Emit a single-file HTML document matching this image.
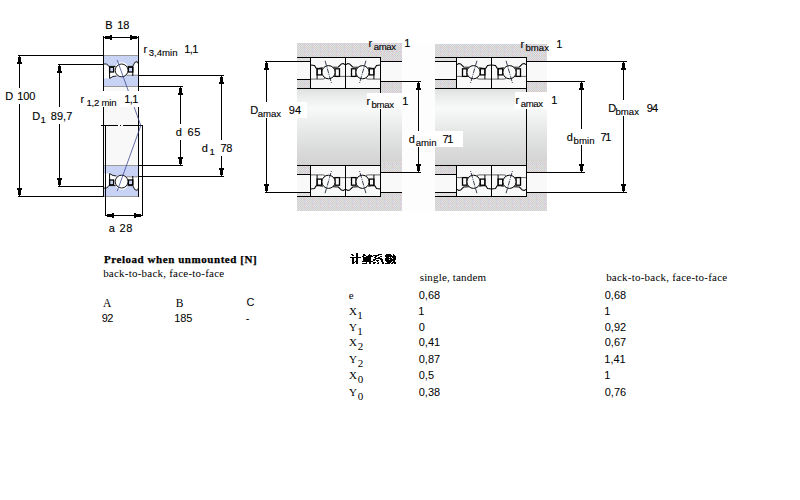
<!DOCTYPE html><html><head><meta charset="utf-8"><style>html,body{margin:0;padding:0;background:#fff;width:800px;height:500px;overflow:hidden}svg{display:block}</style></head><body>
<svg width="800" height="500" viewBox="0 0 800 500">
<defs>
<pattern id="pg" width="8" height="8" patternUnits="userSpaceOnUse"><rect width="8" height="8" fill="#d0d0d0"/><path d="M1,0h1v1h-1zM3,0h1v1h-1zM5,0h1v1h-1zM7,0h1v1h-1zM0,1h1v1h-1zM2,1h1v1h-1zM4,1h1v1h-1zM6,1h1v1h-1zM1,2h1v1h-1zM3,2h1v1h-1zM5,2h1v1h-1zM7,2h1v1h-1zM0,3h1v1h-1zM2,3h1v1h-1zM4,3h1v1h-1zM6,3h1v1h-1zM1,4h1v1h-1zM3,4h1v1h-1zM5,4h1v1h-1zM7,4h1v1h-1zM0,5h1v1h-1zM2,5h1v1h-1zM4,5h1v1h-1zM6,5h1v1h-1zM1,6h1v1h-1zM3,6h1v1h-1zM5,6h1v1h-1zM7,6h1v1h-1zM0,7h1v1h-1zM2,7h1v1h-1zM4,7h1v1h-1zM6,7h1v1h-1z" fill="#e0e0e0"/><rect x="0" y="3" width="1" height="1" fill="#f4c4c8"/><rect x="0" y="4" width="1" height="1" fill="#c8c8f4"/><rect x="4" y="3" width="1" height="1" fill="#f4c4c8"/><rect x="4" y="4" width="1" height="1" fill="#c8c8f4"/><rect x="0" y="7" width="1" height="1" fill="#f4c4c8"/><rect x="0" y="0" width="1" height="1" fill="#c8c8f4"/></pattern>
<pattern id="pl" width="6" height="6" patternUnits="userSpaceOnUse"><rect width="6" height="6" fill="#e0e0e0"/><rect x="1" y="1" width="1" height="1" fill="#f0d8e0"/></pattern>
<pattern id="pb" width="4" height="4" patternUnits="userSpaceOnUse"><rect width="4" height="4" fill="#caccf6"/><rect x="0" y="0" width="1" height="1" fill="#b0d8f4"/><rect x="2" y="2" width="1" height="1" fill="#b0d8f4"/><rect x="2" y="0" width="1" height="1" fill="#d8f4f4"/><rect x="0" y="2" width="1" height="1" fill="#d8f4f4"/></pattern>
<linearGradient id="shaft" x1="0" y1="88" x2="0" y2="166" gradientUnits="userSpaceOnUse"><stop offset="0" stop-color="#dedede"/><stop offset="0.1" stop-color="#eaecec"/><stop offset="0.26" stop-color="#f8fafa"/><stop offset="0.55" stop-color="#e6e8e8"/><stop offset="0.85" stop-color="#d8d8d8"/><stop offset="1" stop-color="#d2d2d2"/></linearGradient>
</defs>
<g shape-rendering="crispEdges">
<rect x="104" y="87" width="34" height="78" fill="#f8f8f8" />
</g>
<g transform="translate(103.5,55.5)">
<path d="M0,0 H35 V8.5 L33.7,6.1 L31.3,6.9 L29.3,10.9 L24.1,10.9 A6.4,6.4 0 0 0 12.1,10.9 L5.3,10.9 L3.3,8.5 L0,8.5 Z" fill="url(#pb)"/>
<path d="M0,8.5 L3.3,8.5 L5.3,10.9 L12.1,10.9 M24.1,10.9 L29.3,10.9 L31.3,6.9 L33.7,6.1 L35,8.5" fill="none" stroke="#000" stroke-width="0.9"/>
<path d="M0,22.9 L6.1,22.9 L9.5,21 L14,20.3 L22,19.7 L35,19.7 V31 H0 Z" fill="url(#pb)"/>
<path d="M6.1,22.9 L9.5,21 L13,20.5" fill="none" stroke="#000" stroke-width="0.9"/>
<path d="M23,19.7 H35" stroke="#888" stroke-width="1"/>
<path d="M0,0 H35 M0,31 H35" stroke="#999" stroke-width="1"/>
<rect x="6.1" y="11.7" width="4" height="4.8" fill="url(#pb)" stroke="#000" stroke-width="1.3"/>
<rect x="24.9" y="11.7" width="4.4" height="4.8" fill="url(#pb)" stroke="#000" stroke-width="1.3"/>
<path d="M6.1,10.9 V22.9 M29.3,10.9 V20.5" stroke="#000" stroke-width="1"/>
<circle cx="18.1" cy="14.9" r="6.4" fill="#fff" stroke="#000" stroke-width="0.9"/>
</g>
<g transform="translate(103.5,196.5) scale(1,-1)">
<path d="M0,0 H35 V8.5 L33.7,6.1 L31.3,6.9 L29.3,10.9 L24.1,10.9 A6.4,6.4 0 0 0 12.1,10.9 L5.3,10.9 L3.3,8.5 L0,8.5 Z" fill="url(#pb)"/>
<path d="M0,8.5 L3.3,8.5 L5.3,10.9 L12.1,10.9 M24.1,10.9 L29.3,10.9 L31.3,6.9 L33.7,6.1 L35,8.5" fill="none" stroke="#000" stroke-width="0.9"/>
<path d="M0,22.9 L6.1,22.9 L9.5,21 L14,20.3 L22,19.7 L35,19.7 V31 H0 Z" fill="url(#pb)"/>
<path d="M6.1,22.9 L9.5,21 L13,20.5" fill="none" stroke="#000" stroke-width="0.9"/>
<path d="M23,19.7 H35" stroke="#888" stroke-width="1"/>
<path d="M0,0 H35 M0,31 H35" stroke="#999" stroke-width="1"/>
<rect x="6.1" y="11.7" width="4" height="4.8" fill="url(#pb)" stroke="#000" stroke-width="1.3"/>
<rect x="24.9" y="11.7" width="4.4" height="4.8" fill="url(#pb)" stroke="#000" stroke-width="1.3"/>
<path d="M6.1,10.9 V22.9 M29.3,10.9 V20.5" stroke="#000" stroke-width="1"/>
<circle cx="18.1" cy="14.9" r="6.4" fill="#fff" stroke="#000" stroke-width="0.9"/>
</g>
<g shape-rendering="crispEdges">
<rect x="103" y="36" width="1" height="55" fill="#000" />
<rect x="138" y="36" width="1" height="55" fill="#000" />
<rect x="103" y="107" width="1" height="90" fill="#000" />
<rect x="138" y="107" width="1" height="90" fill="#000" />
<rect x="105" y="125" width="1" height="91" fill="#000" />
<rect x="142" y="125" width="1" height="91" fill="#000" />
<rect x="101" y="125" width="42" height="1" fill="#000" />
<rect x="105" y="215" width="38" height="1" fill="#000" />
<rect x="18" y="55" width="86" height="1" fill="#000" />
<rect x="18" y="196" width="86" height="1" fill="#000" />
<rect x="19" y="55" width="1" height="33" fill="#000" />
<rect x="19" y="104" width="1" height="93" fill="#000" />
<rect x="58" y="64" width="46" height="1" fill="#000" />
<rect x="58" y="186" width="46" height="1" fill="#000" />
<rect x="59" y="64" width="1" height="43" fill="#000" />
<rect x="59" y="124" width="1" height="63" fill="#000" />
<rect x="103" y="37" width="36" height="1" fill="#000" />
<rect x="139" y="86" width="44" height="1" fill="#000" />
<rect x="139" y="165" width="44" height="1" fill="#000" />
<rect x="180" y="86" width="1" height="38" fill="#000" />
<rect x="180" y="140" width="1" height="26" fill="#000" />
<rect x="139" y="75" width="85" height="1" fill="#000" />
<rect x="139" y="176" width="85" height="1" fill="#000" />
<rect x="221" y="75" width="1" height="65" fill="#000" />
<rect x="221" y="156" width="1" height="21" fill="#000" />
<rect x="19" y="56" width="1" height="1" fill="#000" />
<rect x="18" y="57" width="3" height="5" fill="#000" />
<rect x="17" y="62" width="5" height="2" fill="#000" />
<rect x="19" y="195" width="1" height="1" fill="#000" />
<rect x="18" y="190" width="3" height="5" fill="#000" />
<rect x="17" y="188" width="5" height="2" fill="#000" />
<rect x="59" y="65" width="1" height="1" fill="#000" />
<rect x="58" y="66" width="3" height="5" fill="#000" />
<rect x="57" y="71" width="5" height="2" fill="#000" />
<rect x="59" y="185" width="1" height="1" fill="#000" />
<rect x="58" y="180" width="3" height="5" fill="#000" />
<rect x="57" y="178" width="5" height="2" fill="#000" />
<rect x="180" y="87" width="1" height="1" fill="#000" />
<rect x="179" y="88" width="3" height="5" fill="#000" />
<rect x="178" y="93" width="5" height="2" fill="#000" />
<rect x="180" y="164" width="1" height="1" fill="#000" />
<rect x="179" y="159" width="3" height="5" fill="#000" />
<rect x="178" y="157" width="5" height="2" fill="#000" />
<rect x="221" y="76" width="1" height="1" fill="#000" />
<rect x="220" y="77" width="3" height="5" fill="#000" />
<rect x="219" y="82" width="5" height="2" fill="#000" />
<rect x="221" y="175" width="1" height="1" fill="#000" />
<rect x="220" y="170" width="3" height="5" fill="#000" />
<rect x="219" y="168" width="5" height="2" fill="#000" />
<rect x="104" y="37" width="1" height="1" fill="#000" />
<rect x="105" y="36" width="5" height="3" fill="#000" />
<rect x="110" y="35" width="2" height="5" fill="#000" />
<rect x="137" y="37" width="1" height="1" fill="#000" />
<rect x="132" y="36" width="5" height="3" fill="#000" />
<rect x="130" y="35" width="2" height="5" fill="#000" />
<rect x="106" y="215" width="1" height="1" fill="#000" />
<rect x="107" y="214" width="5" height="3" fill="#000" />
<rect x="112" y="213" width="2" height="5" fill="#000" />
<rect x="141" y="215" width="1" height="1" fill="#000" />
<rect x="136" y="214" width="5" height="3" fill="#000" />
<rect x="134" y="213" width="2" height="5" fill="#000" />
</g>
<g shape-rendering="crispEdges">
<rect x="118" y="125" width="2" height="1" fill="#fff" />
<rect x="121" y="125" width="2" height="1" fill="#fff" />
</g>
<path d="M117.2,60 L140.8,125.6 L117.2,191.2" fill="none" stroke="#3c4a90" stroke-width="0.8"/>
<rect x="78" y="91" width="62" height="16" fill="#fff" />
<g shape-rendering="crispEdges">
<rect x="297" y="43" width="250" height="168" fill="#fdfdfd" />
</g>
<g shape-rendering="crispEdges">
<rect x="297" y="88" width="105" height="78" fill="url(#shaft)" />
<rect x="297" y="43" width="83" height="14" fill="url(#pg)" />
<rect x="380" y="43" width="22" height="18" fill="url(#pg)" />
<rect x="297" y="58" width="13" height="3" fill="url(#pl)" />
<rect x="297" y="62" width="13" height="17" fill="#f9f9f9" />
<rect x="297" y="80" width="13" height="8" fill="url(#pg)" />
<rect x="380" y="62" width="22" height="19" fill="#f9f9f9" />
<rect x="380" y="82" width="22" height="11" fill="url(#pg)" />
<rect x="297" y="57" width="84" height="1" fill="#000" />
<rect x="297" y="61" width="14" height="1" fill="#000" />
<rect x="297" y="79" width="14" height="1" fill="#000" />
<rect x="297" y="88" width="84" height="1" fill="#000" />
<rect x="380" y="61" width="22" height="1" fill="#000" />
<rect x="380" y="81" width="22" height="1" fill="#000" />
<rect x="297" y="197" width="83" height="14" fill="url(#pg)" />
<rect x="380" y="193" width="22" height="18" fill="url(#pg)" />
<rect x="297" y="193" width="13" height="3" fill="url(#pl)" />
<rect x="297" y="175" width="13" height="17" fill="#f9f9f9" />
<rect x="297" y="166" width="13" height="8" fill="url(#pg)" />
<rect x="380" y="173" width="22" height="19" fill="#f9f9f9" />
<rect x="380" y="161" width="22" height="11" fill="url(#pg)" />
<rect x="297" y="196" width="84" height="1" fill="#000" />
<rect x="297" y="192" width="14" height="1" fill="#000" />
<rect x="297" y="174" width="14" height="1" fill="#000" />
<rect x="297" y="165" width="84" height="1" fill="#000" />
<rect x="380" y="192" width="22" height="1" fill="#000" />
<rect x="380" y="172" width="22" height="1" fill="#000" />
</g>
<g transform="translate(310.5,57.5)">
<rect x="0" y="0" width="35" height="31" fill="#f9f9f9"/>
<path d="M0,7.5 L4,7.9 L5.5,10.5 L7.4,10.9 L12.3,10.2 M22.5,9.8 L27.9,9.4 L30.9,6.4 L32.8,6 L35,7.4" fill="none" stroke="#000" stroke-width="1.05"/>
<path d="M0,21.6 H12.5 L14.5,21 M22,18.9 H35" fill="none" stroke="#555" stroke-width="0.9"/>
<rect x="6.6" y="11.3" width="4.6" height="6.1" fill="#f9f9f9" stroke="#000" stroke-width="1.3"/>
<rect x="24.5" y="11.3" width="4.5" height="7.6" fill="#f9f9f9" stroke="#000" stroke-width="1.3"/>
<path d="M6.6,10.5 V21.6" stroke="#000" stroke-width="1"/>
<circle cx="18" cy="14.7" r="6.6" fill="#fbfbfb" stroke="#000" stroke-width="1"/>
<path d="M14.6,3.3 L21.1,26.1" stroke="#222a44" stroke-width="0.9" stroke-dasharray="5,1,1,1"/>
</g>
<g transform="translate(345.5,57.5) translate(35,0) scale(-1,1)">
<rect x="0" y="0" width="35" height="31" fill="#f9f9f9"/>
<path d="M0,7.5 L4,7.9 L5.5,10.5 L7.4,10.9 L12.3,10.2 M22.5,9.8 L27.9,9.4 L30.9,6.4 L32.8,6 L35,7.4" fill="none" stroke="#000" stroke-width="1.05"/>
<path d="M0,21.6 H12.5 L14.5,21 M22,18.9 H35" fill="none" stroke="#555" stroke-width="0.9"/>
<rect x="6.6" y="11.3" width="4.6" height="6.1" fill="#f9f9f9" stroke="#000" stroke-width="1.3"/>
<rect x="24.5" y="11.3" width="4.5" height="7.6" fill="#f9f9f9" stroke="#000" stroke-width="1.3"/>
<path d="M6.6,10.5 V21.6" stroke="#000" stroke-width="1"/>
<circle cx="18" cy="14.7" r="6.6" fill="#fbfbfb" stroke="#000" stroke-width="1"/>
<path d="M14.6,3.3 L21.1,26.1" stroke="#222a44" stroke-width="0.9" stroke-dasharray="5,1,1,1"/>
</g>
<g transform="translate(310.5,196.5) scale(1,-1)">
<rect x="0" y="0" width="35" height="31" fill="#f9f9f9"/>
<path d="M0,7.5 L4,7.9 L5.5,10.5 L7.4,10.9 L12.3,10.2 M22.5,9.8 L27.9,9.4 L30.9,6.4 L32.8,6 L35,7.4" fill="none" stroke="#000" stroke-width="1.05"/>
<path d="M0,21.6 H12.5 L14.5,21 M22,18.9 H35" fill="none" stroke="#555" stroke-width="0.9"/>
<rect x="6.6" y="11.3" width="4.6" height="6.1" fill="#f9f9f9" stroke="#000" stroke-width="1.3"/>
<rect x="24.5" y="11.3" width="4.5" height="7.6" fill="#f9f9f9" stroke="#000" stroke-width="1.3"/>
<path d="M6.6,10.5 V21.6" stroke="#000" stroke-width="1"/>
<circle cx="18" cy="14.7" r="6.6" fill="#fbfbfb" stroke="#000" stroke-width="1"/>
<path d="M14.6,3.3 L21.1,26.1" stroke="#222a44" stroke-width="0.9" stroke-dasharray="5,1,1,1"/>
</g>
<g transform="translate(345.5,196.5) scale(1,-1) translate(35,0) scale(-1,1)">
<rect x="0" y="0" width="35" height="31" fill="#f9f9f9"/>
<path d="M0,7.5 L4,7.9 L5.5,10.5 L7.4,10.9 L12.3,10.2 M22.5,9.8 L27.9,9.4 L30.9,6.4 L32.8,6 L35,7.4" fill="none" stroke="#000" stroke-width="1.05"/>
<path d="M0,21.6 H12.5 L14.5,21 M22,18.9 H35" fill="none" stroke="#555" stroke-width="0.9"/>
<rect x="6.6" y="11.3" width="4.6" height="6.1" fill="#f9f9f9" stroke="#000" stroke-width="1.3"/>
<rect x="24.5" y="11.3" width="4.5" height="7.6" fill="#f9f9f9" stroke="#000" stroke-width="1.3"/>
<path d="M6.6,10.5 V21.6" stroke="#000" stroke-width="1"/>
<circle cx="18" cy="14.7" r="6.6" fill="#fbfbfb" stroke="#000" stroke-width="1"/>
<path d="M14.6,3.3 L21.1,26.1" stroke="#222a44" stroke-width="0.9" stroke-dasharray="5,1,1,1"/>
</g>
<g shape-rendering="crispEdges">
<rect x="310" y="57" width="1" height="32" fill="#000" />
<rect x="310" y="165" width="1" height="32" fill="#000" />
<rect x="345" y="57" width="1" height="32" fill="#000" />
<rect x="345" y="165" width="1" height="32" fill="#000" />
<rect x="380" y="57" width="1" height="140" fill="#000" />
<rect x="310" y="57" width="71" height="1" fill="#000" />
<rect x="310" y="88" width="71" height="1" fill="#000" />
<rect x="310" y="165" width="71" height="1" fill="#000" />
<rect x="310" y="196" width="71" height="1" fill="#000" />
</g>
<g shape-rendering="crispEdges">
<rect x="435" y="88" width="112" height="78" fill="url(#shaft)" />
<rect x="435" y="44" width="91" height="13" fill="url(#pg)" />
<rect x="526" y="44" width="21" height="17" fill="url(#pg)" />
<rect x="435" y="58" width="21" height="3" fill="url(#pl)" />
<rect x="435" y="62" width="21" height="17" fill="#f9f9f9" />
<rect x="435" y="80" width="21" height="8" fill="url(#pg)" />
<rect x="526" y="62" width="21" height="19" fill="#f9f9f9" />
<rect x="526" y="82" width="21" height="11" fill="url(#pg)" />
<rect x="435" y="57" width="92" height="1" fill="#000" />
<rect x="435" y="61" width="22" height="1" fill="#000" />
<rect x="435" y="79" width="22" height="1" fill="#000" />
<rect x="435" y="88" width="92" height="1" fill="#000" />
<rect x="526" y="61" width="21" height="1" fill="#000" />
<rect x="526" y="81" width="21" height="1" fill="#000" />
<rect x="435" y="197" width="91" height="14" fill="url(#pg)" />
<rect x="526" y="193" width="21" height="18" fill="url(#pg)" />
<rect x="435" y="193" width="21" height="3" fill="url(#pl)" />
<rect x="435" y="175" width="21" height="17" fill="#f9f9f9" />
<rect x="435" y="166" width="21" height="8" fill="url(#pg)" />
<rect x="526" y="173" width="21" height="19" fill="#f9f9f9" />
<rect x="526" y="161" width="21" height="11" fill="url(#pg)" />
<rect x="435" y="196" width="92" height="1" fill="#000" />
<rect x="435" y="192" width="22" height="1" fill="#000" />
<rect x="435" y="174" width="22" height="1" fill="#000" />
<rect x="435" y="165" width="92" height="1" fill="#000" />
<rect x="526" y="192" width="21" height="1" fill="#000" />
<rect x="526" y="172" width="21" height="1" fill="#000" />
</g>
<g transform="translate(456.5,57.5) translate(35,0) scale(-1,1)">
<rect x="0" y="0" width="35" height="31" fill="#f9f9f9"/>
<path d="M0,7.5 L4,7.9 L5.5,10.5 L7.4,10.9 L12.3,10.2 M22.5,9.8 L27.9,9.4 L30.9,6.4 L32.8,6 L35,7.4" fill="none" stroke="#000" stroke-width="1.05"/>
<path d="M0,21.6 H12.5 L14.5,21 M22,18.9 H35" fill="none" stroke="#555" stroke-width="0.9"/>
<rect x="6.6" y="11.3" width="4.6" height="6.1" fill="#f9f9f9" stroke="#000" stroke-width="1.3"/>
<rect x="24.5" y="11.3" width="4.5" height="7.6" fill="#f9f9f9" stroke="#000" stroke-width="1.3"/>
<path d="M6.6,10.5 V21.6" stroke="#000" stroke-width="1"/>
<circle cx="18" cy="14.7" r="6.6" fill="#fbfbfb" stroke="#000" stroke-width="1"/>
<path d="M14.6,3.3 L21.1,26.1" stroke="#222a44" stroke-width="0.9" stroke-dasharray="5,1,1,1"/>
</g>
<g transform="translate(491.5,57.5)">
<rect x="0" y="0" width="35" height="31" fill="#f9f9f9"/>
<path d="M0,7.5 L4,7.9 L5.5,10.5 L7.4,10.9 L12.3,10.2 M22.5,9.8 L27.9,9.4 L30.9,6.4 L32.8,6 L35,7.4" fill="none" stroke="#000" stroke-width="1.05"/>
<path d="M0,21.6 H12.5 L14.5,21 M22,18.9 H35" fill="none" stroke="#555" stroke-width="0.9"/>
<rect x="6.6" y="11.3" width="4.6" height="6.1" fill="#f9f9f9" stroke="#000" stroke-width="1.3"/>
<rect x="24.5" y="11.3" width="4.5" height="7.6" fill="#f9f9f9" stroke="#000" stroke-width="1.3"/>
<path d="M6.6,10.5 V21.6" stroke="#000" stroke-width="1"/>
<circle cx="18" cy="14.7" r="6.6" fill="#fbfbfb" stroke="#000" stroke-width="1"/>
<path d="M14.6,3.3 L21.1,26.1" stroke="#222a44" stroke-width="0.9" stroke-dasharray="5,1,1,1"/>
</g>
<g transform="translate(456.5,196.5) scale(1,-1) translate(35,0) scale(-1,1)">
<rect x="0" y="0" width="35" height="31" fill="#f9f9f9"/>
<path d="M0,7.5 L4,7.9 L5.5,10.5 L7.4,10.9 L12.3,10.2 M22.5,9.8 L27.9,9.4 L30.9,6.4 L32.8,6 L35,7.4" fill="none" stroke="#000" stroke-width="1.05"/>
<path d="M0,21.6 H12.5 L14.5,21 M22,18.9 H35" fill="none" stroke="#555" stroke-width="0.9"/>
<rect x="6.6" y="11.3" width="4.6" height="6.1" fill="#f9f9f9" stroke="#000" stroke-width="1.3"/>
<rect x="24.5" y="11.3" width="4.5" height="7.6" fill="#f9f9f9" stroke="#000" stroke-width="1.3"/>
<path d="M6.6,10.5 V21.6" stroke="#000" stroke-width="1"/>
<circle cx="18" cy="14.7" r="6.6" fill="#fbfbfb" stroke="#000" stroke-width="1"/>
<path d="M14.6,3.3 L21.1,26.1" stroke="#222a44" stroke-width="0.9" stroke-dasharray="5,1,1,1"/>
</g>
<g transform="translate(491.5,196.5) scale(1,-1)">
<rect x="0" y="0" width="35" height="31" fill="#f9f9f9"/>
<path d="M0,7.5 L4,7.9 L5.5,10.5 L7.4,10.9 L12.3,10.2 M22.5,9.8 L27.9,9.4 L30.9,6.4 L32.8,6 L35,7.4" fill="none" stroke="#000" stroke-width="1.05"/>
<path d="M0,21.6 H12.5 L14.5,21 M22,18.9 H35" fill="none" stroke="#555" stroke-width="0.9"/>
<rect x="6.6" y="11.3" width="4.6" height="6.1" fill="#f9f9f9" stroke="#000" stroke-width="1.3"/>
<rect x="24.5" y="11.3" width="4.5" height="7.6" fill="#f9f9f9" stroke="#000" stroke-width="1.3"/>
<path d="M6.6,10.5 V21.6" stroke="#000" stroke-width="1"/>
<circle cx="18" cy="14.7" r="6.6" fill="#fbfbfb" stroke="#000" stroke-width="1"/>
<path d="M14.6,3.3 L21.1,26.1" stroke="#222a44" stroke-width="0.9" stroke-dasharray="5,1,1,1"/>
</g>
<g shape-rendering="crispEdges">
<rect x="456" y="57" width="1" height="32" fill="#000" />
<rect x="456" y="165" width="1" height="32" fill="#000" />
<rect x="491" y="57" width="1" height="32" fill="#000" />
<rect x="491" y="165" width="1" height="32" fill="#000" />
<rect x="526" y="57" width="1" height="140" fill="#000" />
<rect x="456" y="57" width="71" height="1" fill="#000" />
<rect x="456" y="88" width="71" height="1" fill="#000" />
<rect x="456" y="165" width="71" height="1" fill="#000" />
<rect x="456" y="196" width="71" height="1" fill="#000" />
</g>
<g shape-rendering="crispEdges">
<rect x="265" y="61" width="32" height="1" fill="#000" />
<rect x="265" y="192" width="32" height="1" fill="#000" />
<rect x="266" y="61" width="1" height="41" fill="#000" />
<rect x="266" y="118" width="1" height="75" fill="#000" />
<rect x="402" y="81" width="19" height="1" fill="#000" />
<rect x="380" y="172" width="41" height="1" fill="#000" />
<rect x="418" y="81" width="1" height="50" fill="#000" />
<rect x="418" y="147" width="1" height="26" fill="#000" />
<rect x="547" y="81" width="38" height="1" fill="#000" />
<rect x="526" y="172" width="59" height="1" fill="#000" />
<rect x="581" y="81" width="1" height="48" fill="#000" />
<rect x="581" y="145" width="1" height="28" fill="#000" />
<rect x="547" y="61" width="80" height="1" fill="#000" />
<rect x="547" y="192" width="80" height="1" fill="#000" />
<rect x="623" y="61" width="1" height="39" fill="#000" />
<rect x="623" y="116" width="1" height="77" fill="#000" />
<rect x="266" y="62" width="1" height="1" fill="#000" />
<rect x="265" y="63" width="3" height="5" fill="#000" />
<rect x="264" y="68" width="5" height="2" fill="#000" />
<rect x="266" y="191" width="1" height="1" fill="#000" />
<rect x="265" y="186" width="3" height="5" fill="#000" />
<rect x="264" y="184" width="5" height="2" fill="#000" />
<rect x="418" y="82" width="1" height="1" fill="#000" />
<rect x="417" y="83" width="3" height="5" fill="#000" />
<rect x="416" y="88" width="5" height="2" fill="#000" />
<rect x="418" y="171" width="1" height="1" fill="#000" />
<rect x="417" y="166" width="3" height="5" fill="#000" />
<rect x="416" y="164" width="5" height="2" fill="#000" />
<rect x="581" y="82" width="1" height="1" fill="#000" />
<rect x="580" y="83" width="3" height="5" fill="#000" />
<rect x="579" y="88" width="5" height="2" fill="#000" />
<rect x="581" y="171" width="1" height="1" fill="#000" />
<rect x="580" y="166" width="3" height="5" fill="#000" />
<rect x="579" y="164" width="5" height="2" fill="#000" />
<rect x="623" y="62" width="1" height="1" fill="#000" />
<rect x="622" y="63" width="3" height="5" fill="#000" />
<rect x="621" y="68" width="5" height="2" fill="#000" />
<rect x="623" y="191" width="1" height="1" fill="#000" />
<rect x="622" y="186" width="3" height="5" fill="#000" />
<rect x="621" y="184" width="5" height="2" fill="#000" />
<rect x="250" y="102" width="57" height="16" fill="#fff" />
<rect x="367" y="93" width="45" height="16" fill="#fff" />
<rect x="408" y="131" width="55" height="16" fill="#fff" />
<rect x="515" y="92" width="45" height="17" fill="#fff" />
</g>
<text x="5.25" y="100" font-family="Liberation Sans" font-size="11" font-weight="normal"   stroke="#000" stroke-width="0.12">D</text>
<text x="17.31" y="100" font-family="Liberation Sans" font-size="11" font-weight="normal" textLength="17.97" lengthAdjust="spacing"  stroke="#000" stroke-width="0.12">100</text>
<text x="32.25" y="120" font-family="Liberation Sans" font-size="11" font-weight="normal"   stroke="#000" stroke-width="0.12">D</text>
<text x="40.42" y="123" font-family="Liberation Sans" font-size="9.6" font-weight="normal"   stroke="#000" stroke-width="0.12">1</text>
<text x="50.67" y="120" font-family="Liberation Sans" font-size="11" font-weight="normal" textLength="21.73" lengthAdjust="spacing"  stroke="#000" stroke-width="0.12">89,7</text>
<text x="105.25" y="29" font-family="Liberation Sans" font-size="11" font-weight="normal"   stroke="#000" stroke-width="0.12">B</text>
<text x="117.31" y="29" font-family="Liberation Sans" font-size="11" font-weight="normal" textLength="12.02" lengthAdjust="spacing"  stroke="#000" stroke-width="0.12">18</text>
<text x="143.42" y="53" font-family="Liberation Sans" font-size="11" font-weight="normal"   stroke="#000" stroke-width="0.12">r</text>
<text x="148.78" y="56" font-family="Liberation Sans" font-size="9.6" font-weight="normal" textLength="28.69" lengthAdjust="spacing"  stroke="#000" stroke-width="0.12">3,4min</text>
<text x="184.31" y="53" font-family="Liberation Sans" font-size="11" font-weight="normal" textLength="14.07" lengthAdjust="spacing"  stroke="#000" stroke-width="0.12">1,1</text>
<text x="80.42" y="103" font-family="Liberation Sans" font-size="11" font-weight="normal"   stroke="#000" stroke-width="0.12">r</text>
<text x="86.42" y="106" font-family="Liberation Sans" font-size="9.6" font-weight="normal" textLength="30.05" lengthAdjust="spacing"  stroke="#000" stroke-width="0.12">1,2 min</text>
<text x="124.31" y="103" font-family="Liberation Sans" font-size="11" font-weight="normal" textLength="14.07" lengthAdjust="spacing"  stroke="#000" stroke-width="0.12">1,1</text>
<text x="175.69" y="136" font-family="Liberation Sans" font-size="11" font-weight="normal"   stroke="#000" stroke-width="0.12">d</text>
<text x="187.59" y="136" font-family="Liberation Sans" font-size="11" font-weight="normal" textLength="12.72" lengthAdjust="spacing"  stroke="#000" stroke-width="0.12">65</text>
<text x="201.69" y="152" font-family="Liberation Sans" font-size="11" font-weight="normal"   stroke="#000" stroke-width="0.12">d</text>
<text x="209.42" y="155" font-family="Liberation Sans" font-size="9.6" font-weight="normal"   stroke="#000" stroke-width="0.12">1</text>
<text x="220.59" y="152" font-family="Liberation Sans" font-size="11" font-weight="normal" textLength="11.74" lengthAdjust="spacing"  stroke="#000" stroke-width="0.12">78</text>
<text x="108.68" y="232" font-family="Liberation Sans" font-size="11" font-weight="normal"   stroke="#000" stroke-width="0.12">a</text>
<text x="119.60" y="232" font-family="Liberation Sans" font-size="11" font-weight="normal" textLength="12.73" lengthAdjust="spacing"  stroke="#000" stroke-width="0.12">28</text>
<text x="368.42" y="47" font-family="Liberation Sans" font-size="11" font-weight="normal"   stroke="#000" stroke-width="0.12">r</text>
<text x="373.74" y="50" font-family="Liberation Sans" font-size="9.6" font-weight="normal" textLength="22.21" lengthAdjust="spacing"  stroke="#000" stroke-width="0.12">amax</text>
<text x="404.31" y="47" font-family="Liberation Sans" font-size="11" font-weight="normal"   stroke="#000" stroke-width="0.12">1</text>
<text x="250.25" y="114" font-family="Liberation Sans" font-size="11" font-weight="normal"   stroke="#000" stroke-width="0.12">D</text>
<text x="257.74" y="117" font-family="Liberation Sans" font-size="9.6" font-weight="normal" textLength="23.21" lengthAdjust="spacing"  stroke="#000" stroke-width="0.12">amax</text>
<text x="288.63" y="114" font-family="Liberation Sans" font-size="11" font-weight="normal" textLength="12.54" lengthAdjust="spacing"  stroke="#000" stroke-width="0.12">94</text>
<text x="366.42" y="105" font-family="Liberation Sans" font-size="11" font-weight="normal"   stroke="#000" stroke-width="0.12">r</text>
<text x="371.53" y="108" font-family="Liberation Sans" font-size="9.6" font-weight="normal" textLength="22.42" lengthAdjust="spacing"  stroke="#000" stroke-width="0.12">bmax</text>
<text x="402.31" y="105" font-family="Liberation Sans" font-size="11" font-weight="normal"   stroke="#000" stroke-width="0.12">1</text>
<text x="408.69" y="143" font-family="Liberation Sans" font-size="11" font-weight="normal"   stroke="#000" stroke-width="0.12">d</text>
<text x="415.74" y="146" font-family="Liberation Sans" font-size="9.6" font-weight="normal" textLength="20.73" lengthAdjust="spacing"  stroke="#000" stroke-width="0.12">amin</text>
<text x="442.59" y="143" font-family="Liberation Sans" font-size="11" font-weight="normal" textLength="10.80" lengthAdjust="spacing"  stroke="#000" stroke-width="0.12">71</text>
<text x="520.42" y="48" font-family="Liberation Sans" font-size="11" font-weight="normal"   stroke="#000" stroke-width="0.12">r</text>
<text x="525.53" y="51" font-family="Liberation Sans" font-size="9.6" font-weight="normal" textLength="23.42" lengthAdjust="spacing"  stroke="#000" stroke-width="0.12">bmax</text>
<text x="556.31" y="48" font-family="Liberation Sans" font-size="11" font-weight="normal"   stroke="#000" stroke-width="0.12">1</text>
<text x="515.42" y="104" font-family="Liberation Sans" font-size="11" font-weight="normal"   stroke="#000" stroke-width="0.12">r</text>
<text x="520.74" y="107" font-family="Liberation Sans" font-size="9.6" font-weight="normal" textLength="22.21" lengthAdjust="spacing"  stroke="#000" stroke-width="0.12">amax</text>
<text x="551.31" y="104" font-family="Liberation Sans" font-size="11" font-weight="normal"   stroke="#000" stroke-width="0.12">1</text>
<text x="566.69" y="141" font-family="Liberation Sans" font-size="11" font-weight="normal"   stroke="#000" stroke-width="0.12">d</text>
<text x="573.53" y="144" font-family="Liberation Sans" font-size="9.6" font-weight="normal" textLength="20.94" lengthAdjust="spacing"  stroke="#000" stroke-width="0.12">bmin</text>
<text x="600.59" y="141" font-family="Liberation Sans" font-size="11" font-weight="normal" textLength="10.80" lengthAdjust="spacing"  stroke="#000" stroke-width="0.12">71</text>
<text x="608.25" y="112" font-family="Liberation Sans" font-size="11" font-weight="normal"   stroke="#000" stroke-width="0.12">D</text>
<text x="615.53" y="115" font-family="Liberation Sans" font-size="9.6" font-weight="normal" textLength="23.42" lengthAdjust="spacing"  stroke="#000" stroke-width="0.12">bmax</text>
<text x="646.63" y="112" font-family="Liberation Sans" font-size="11" font-weight="normal" textLength="11.54" lengthAdjust="spacing"  stroke="#000" stroke-width="0.12">94</text>
<text x="103.96" y="263" font-family="Liberation Serif" font-size="11" font-weight="bold" textLength="152.70" lengthAdjust="spacing"  stroke="#000" stroke-width="0.25">Preload when unmounted [N]</text>
<text x="103.15" y="277" font-family="Liberation Serif" font-size="11" font-weight="normal" textLength="121.08" lengthAdjust="spacing"  >back-to-back, face-to-face</text>
<text x="103.04" y="307" font-family="Liberation Serif" font-size="11.5" font-weight="normal"   >A</text>
<text x="175.82" y="307" font-family="Liberation Serif" font-size="11.5" font-weight="normal"   >B</text>
<text x="246.59" y="306" font-family="Liberation Sans" font-size="11" font-weight="normal"   >C</text>
<text x="101.63" y="322" font-family="Liberation Sans" font-size="11" font-weight="normal" textLength="11.77" lengthAdjust="spacing"  >92</text>
<text x="174.31" y="322" font-family="Liberation Sans" font-size="11" font-weight="normal" textLength="18.00" lengthAdjust="spacing"  >185</text>
<text x="245.66" y="322" font-family="Liberation Sans" font-size="11" font-weight="normal"   >-</text>
<text x="419.70" y="281" font-family="Liberation Serif" font-size="11" font-weight="normal" textLength="66.32" lengthAdjust="spacing"  >single, tandem</text>
<text x="606.15" y="281" font-family="Liberation Serif" font-size="11" font-weight="normal" textLength="121.08" lengthAdjust="spacing"  >back-to-back, face-to-face</text>
<text x="348.72" y="299" font-family="Liberation Serif" font-size="11" font-weight="normal"   >e</text>
<text x="418.72" y="299" font-family="Liberation Sans" font-size="11" font-weight="normal"   >0,68</text>
<text x="604.72" y="299" font-family="Liberation Sans" font-size="11" font-weight="normal"   >0,68</text>
<text x="348.91" y="315" font-family="Liberation Serif" font-size="11" font-weight="normal"   >X</text>
<text x="357.18" y="319" font-family="Liberation Serif" font-size="11" font-weight="normal"   >1</text>
<text x="418.31" y="315" font-family="Liberation Sans" font-size="11" font-weight="normal"   >1</text>
<text x="604.31" y="315" font-family="Liberation Sans" font-size="11" font-weight="normal"   >1</text>
<text x="349.03" y="331" font-family="Liberation Serif" font-size="11" font-weight="normal"   >Y</text>
<text x="357.18" y="335" font-family="Liberation Serif" font-size="11" font-weight="normal"   >1</text>
<text x="418.72" y="331" font-family="Liberation Sans" font-size="11" font-weight="normal"   >0</text>
<text x="604.72" y="331" font-family="Liberation Sans" font-size="11" font-weight="normal"   >0,92</text>
<text x="348.91" y="346" font-family="Liberation Serif" font-size="11" font-weight="normal"   >X</text>
<text x="357.67" y="350" font-family="Liberation Serif" font-size="11" font-weight="normal"   >2</text>
<text x="418.72" y="346" font-family="Liberation Sans" font-size="11" font-weight="normal"   >0,41</text>
<text x="604.72" y="346" font-family="Liberation Sans" font-size="11" font-weight="normal"   >0,67</text>
<text x="349.03" y="363" font-family="Liberation Serif" font-size="11" font-weight="normal"   >Y</text>
<text x="357.67" y="367" font-family="Liberation Serif" font-size="11" font-weight="normal"   >2</text>
<text x="418.72" y="363" font-family="Liberation Sans" font-size="11" font-weight="normal"   >0,87</text>
<text x="604.31" y="363" font-family="Liberation Sans" font-size="11" font-weight="normal"   >1,41</text>
<text x="348.91" y="379" font-family="Liberation Serif" font-size="11" font-weight="normal"   >X</text>
<text x="357.73" y="383" font-family="Liberation Serif" font-size="11" font-weight="normal"   >0</text>
<text x="418.72" y="379" font-family="Liberation Sans" font-size="11" font-weight="normal"   >0,5</text>
<text x="604.31" y="379" font-family="Liberation Sans" font-size="11" font-weight="normal"   >1</text>
<text x="349.03" y="396" font-family="Liberation Serif" font-size="11" font-weight="normal"   >Y</text>
<text x="357.73" y="400" font-family="Liberation Serif" font-size="11" font-weight="normal"   >0</text>
<text x="418.72" y="396" font-family="Liberation Sans" font-size="11" font-weight="normal"   >0,38</text>
<text x="604.72" y="396" font-family="Liberation Sans" font-size="11" font-weight="normal"   >0,76</text>
<g fill="#000" shape-rendering="crispEdges">
<rect x="356" y="253" width="2" height="1"/>
<rect x="351" y="254" width="2" height="1"/>
<rect x="356" y="254" width="2" height="1"/>
<rect x="352" y="255" width="2" height="1"/>
<rect x="356" y="255" width="2" height="1"/>
<rect x="356" y="256" width="2" height="1"/>
<rect x="350" y="257" width="11" height="1"/>
<rect x="352" y="258" width="2" height="1"/>
<rect x="356" y="258" width="2" height="1"/>
<rect x="352" y="259" width="2" height="1"/>
<rect x="356" y="259" width="2" height="1"/>
<rect x="352" y="260" width="2" height="1"/>
<rect x="356" y="260" width="2" height="1"/>
<rect x="352" y="261" width="2" height="1"/>
<rect x="355" y="261" width="3" height="1"/>
<rect x="352" y="262" width="3" height="1"/>
<rect x="356" y="262" width="2" height="1"/>
<rect x="352" y="263" width="2" height="1"/>
<rect x="356" y="263" width="2" height="1"/>
<rect x="363" y="254" width="2" height="1"/>
<rect x="369" y="254" width="1" height="1"/>
<rect x="363" y="255" width="3" height="1"/>
<rect x="368" y="255" width="4" height="1"/>
<rect x="362" y="256" width="2" height="1"/>
<rect x="366" y="256" width="7" height="1"/>
<rect x="363" y="257" width="8" height="1"/>
<rect x="363" y="258" width="8" height="1"/>
<rect x="363" y="259" width="8" height="1"/>
<rect x="363" y="260" width="8" height="1"/>
<rect x="362" y="261" width="11" height="1"/>
<rect x="366" y="262" width="1" height="1"/>
<rect x="369" y="262" width="2" height="1"/>
<rect x="362" y="263" width="5" height="1"/>
<rect x="369" y="263" width="2" height="1"/>
<rect x="378" y="254" width="4" height="1"/>
<rect x="373" y="255" width="6" height="1"/>
<rect x="375" y="256" width="2" height="1"/>
<rect x="380" y="256" width="2" height="1"/>
<rect x="374" y="257" width="2" height="1"/>
<rect x="378" y="257" width="2" height="1"/>
<rect x="375" y="258" width="7" height="1"/>
<rect x="373" y="259" width="3" height="1"/>
<rect x="380" y="259" width="3" height="1"/>
<rect x="373" y="260" width="2" height="1"/>
<rect x="376" y="260" width="3" height="1"/>
<rect x="381" y="260" width="2" height="1"/>
<rect x="377" y="261" width="1" height="1"/>
<rect x="381" y="261" width="2" height="1"/>
<rect x="373" y="262" width="3" height="1"/>
<rect x="378" y="262" width="1" height="1"/>
<rect x="382" y="262" width="2" height="1"/>
<rect x="373" y="263" width="2" height="1"/>
<rect x="377" y="263" width="2" height="1"/>
<rect x="382" y="263" width="2" height="1"/>
<rect x="386" y="254" width="5" height="1"/>
<rect x="393" y="254" width="1" height="1"/>
<rect x="385" y="255" width="7" height="1"/>
<rect x="393" y="255" width="2" height="1"/>
<rect x="385" y="256" width="11" height="1"/>
<rect x="386" y="257" width="3" height="1"/>
<rect x="390" y="257" width="1" height="1"/>
<rect x="392" y="257" width="4" height="1"/>
<rect x="385" y="258" width="7" height="1"/>
<rect x="393" y="258" width="3" height="1"/>
<rect x="385" y="259" width="4" height="1"/>
<rect x="390" y="259" width="6" height="1"/>
<rect x="385" y="260" width="10" height="1"/>
<rect x="386" y="261" width="6" height="1"/>
<rect x="393" y="261" width="2" height="1"/>
<rect x="387" y="262" width="4" height="1"/>
<rect x="392" y="262" width="4" height="1"/>
<rect x="385" y="263" width="5" height="1"/>
<rect x="391" y="263" width="2" height="1"/>
<rect x="394" y="263" width="2" height="1"/>
</g>
</svg></body></html>
